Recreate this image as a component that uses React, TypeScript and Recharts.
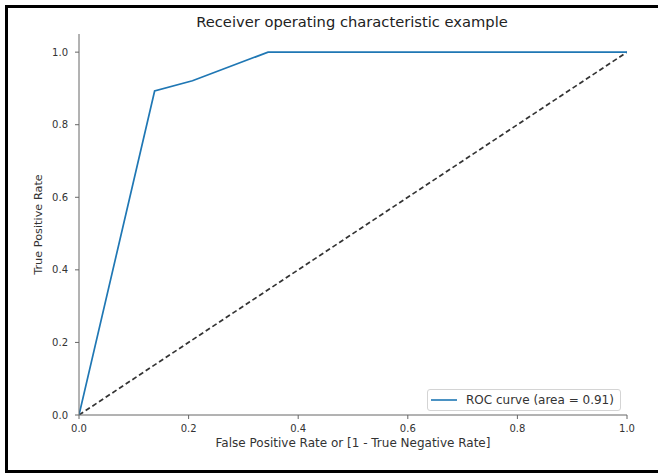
import React from "react";
import { LineChart, Line, XAxis, YAxis } from "recharts";

// ROC curve points: false positive rate vs true positive rate
const fprValues = [0.0, 0.138, 0.207, 0.345, 1.0];
const tprValues = [0.0, 0.893, 0.921, 1.0, 1.0];
// chance-level diagonal
const chanceFpr = [0.0, 1.0];
const chanceTpr = [0.0, 1.0];

const xTicks = [0, 0.2, 0.4, 0.6, 0.8, 1.0];
const yTicks = [0, 0.2, 0.4, 0.6, 0.8, 1.0];
const rocArea = 0.91;

const rocData = fprValues.map((x, i) => ({ x, y: tprValues[i] }));
const chanceData = chanceFpr.map((x, i) => ({ x, y: chanceTpr[i] }));

const FONT = "'DejaVu Sans', sans-serif";
const AXIS = "#666";
const TEXT = "#333";

const LegendBox = () => (
  <div
    style={{
      position: "absolute",
      left: 427,
      top: 389,
      width: 194,
      height: 22,
      border: "1px solid #d4d4d4",
      borderRadius: 3,
      background: "#fff",
      display: "flex",
      alignItems: "center",
      fontFamily: FONT,
      fontSize: 12,
      color: TEXT,
      boxSizing: "border-box",
      whiteSpace: "nowrap",
    }}
  >
    <svg width={38} height={20} style={{ flex: "none" }}>
      <line x1={3} y1={10} x2={29} y2={10} stroke="#1f77b4" strokeWidth={1.6} />
    </svg>
    <span>{`ROC curve (area = ${rocArea.toFixed(2)})`}</span>
  </div>
);

export default function App() {
  return (
    <div
      style={{
        position: "absolute",
        left: 0,
        top: 0,
        width: 658,
        height: 473,
        background: "#fff",
        overflow: "hidden",
      }}
    >
      <div
        style={{
          position: "absolute",
          left: 5,
          top: 5,
          width: 653,
          height: 468,
          borderLeft: "3px solid #000",
          borderTop: "3px solid #000",
          borderBottom: "3px solid #000",
          boxSizing: "border-box",
        }}
      />
      <svg
        width={658}
        height={40}
        style={{ position: "absolute", left: 0, top: 0 }}
      >
        <text
          x={352}
          y={27}
          textAnchor="middle"
          fontFamily={FONT}
          fontSize={14.7}
          fill="#222"
        >
          Receiver operating characteristic example
        </text>
      </svg>
      <div style={{ position: "absolute", left: 0, top: 0 }}>
        <LineChart
          width={658}
          height={473}
          margin={{ top: 34, right: 31, bottom: 0, left: 0 }}
        >
          <XAxis
            xAxisId="b"
            dataKey="x"
            type="number"
            domain={[0, 1]}
            ticks={xTicks}
            allowDataOverflow
            tickFormatter={(v: number) => v.toFixed(1)}
            height={58}
            tickSize={4}
            tickMargin={6}
            stroke={AXIS}
            tick={{ fill: TEXT, fontSize: 10, fontFamily: FONT }}
            label={{
              value: "False Positive Rate or [1 - True Negative Rate]",
              position: "insideTop",
              offset: 23,
              fill: TEXT,
              fontSize: 12,
              fontFamily: FONT,
            }}
          />
          <XAxis
            xAxisId="t"
            dataKey="x"
            type="number"
            domain={[0, 1]}
            orientation="top"
            height={0}
            tick={false}
            tickLine={false}
            stroke={AXIS}
          />
          <YAxis
            yAxisId="l"
            type="number"
            domain={[0, 1.05]}
            ticks={yTicks}
            allowDataOverflow
            tickFormatter={(v: number) => v.toFixed(1)}
            width={79}
            tickSize={4}
            tickMargin={7}
            stroke={AXIS}
            tick={{ fill: TEXT, fontSize: 10, fontFamily: FONT }}
            label={{
              value: "True Positive Rate",
              angle: -90,
              position: "insideLeft",
              offset: 38,
              style: { textAnchor: "middle" },
              fill: TEXT,
              fontSize: 11.3,
              fontFamily: FONT,
            }}
          />
          <YAxis
            yAxisId="r"
            type="number"
            domain={[0, 1.05]}
            orientation="right"
            width={0}
            tick={false}
            tickLine={false}
            stroke={AXIS}
          />
          <Line
            xAxisId="b"
            yAxisId="l"
            data={chanceData}
            dataKey="y"
            type="linear"
            stroke="#333"
            strokeWidth={1.7}
            strokeDasharray="5 3"
            dot={false}
            isAnimationActive={false}
          />
          <Line
            xAxisId="b"
            yAxisId="l"
            data={rocData}
            dataKey="y"
            type="linear"
            stroke="#1f77b4"
            strokeWidth={1.7}
            dot={false}
            isAnimationActive={false}
          />
        </LineChart>
      </div>
      <LegendBox />
    </div>
  );
}
